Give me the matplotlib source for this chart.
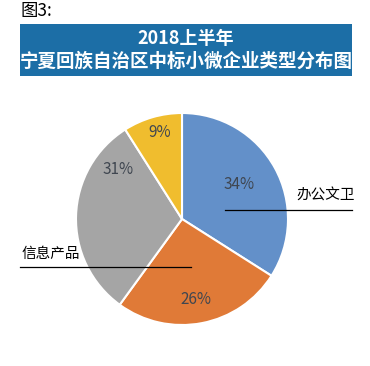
import matplotlib.pyplot as plt
from matplotlib.patches import Rectangle

plt.rcParams['font.family'] = ['Noto Sans CJK SC', 'DejaVu Sans']

# 数据 (橙色和黄色扇区在原图中没有类别名称)
categories = ['办公文卫', '', '信息产品', '']
shares = [34, 26, 31, 9]
pct_labels = ['34%', '26%', '31%', '9%']
colors = ['#6390c9', '#e07a37', '#a5a5a5', '#f0bd2e']

fig = plt.figure(figsize=(3.7, 3.66), dpi=100)
W, H = 370, 366

# 标题部分
fig.text(20 / W, 1 - 11 / H, '图3:', fontsize=12.5, va='center', ha='left')
fig.patches.append(Rectangle((20 / W, 1 - 76 / H), 332 / W, 52 / H,
                             transform=fig.transFigure, facecolor='#1c6ea6',
                             edgecolor='none'))
fig.text(186 / W, 1 - 38 / H, '2018上半年', fontsize=13, fontweight='bold',
         color='white', ha='center', va='center')
fig.text(186 / W, 1 - 61 / H, '宁夏回族自治区中标小微企业类型分布图', fontsize=13.3,
         fontweight='bold', color='white', ha='center', va='center')

# 饼图
r = 106
cx, cy = 182, 219
ax = fig.add_axes([(cx - r) / W, 1 - (cy + r) / H, 2 * r / W, 2 * r / H])
wedges, texts = ax.pie(shares, colors=colors, startangle=90, counterclock=False,
                       wedgeprops=dict(edgecolor='white', linewidth=1.5))
ax.set_aspect('equal')
ax.set_xlim(-1, 1)
ax.set_ylim(-1, 1)
ax.axis('off')

# 百分比标签
pos = [(0.54, 0.33), (0.13, -0.76), (-0.6, 0.47), (-0.21, 0.82)]
for (x, y), t in zip(pos, pct_labels):
    ax.text(x, y, t, fontsize=11, color='#3f4650', ha='center', va='center')

# 引线标签
fig.text(296 / W, 1 - 196 / H, categories[0], fontsize=10.5, ha='left', va='center')
fig.add_artist(plt.Line2D([225 / W, 352 / W], [1 - 210 / H, 1 - 210 / H],
                          color='black', linewidth=0.9))
fig.text(21 / W, 1 - 254 / H, categories[2], fontsize=10.5, ha='left', va='center')
fig.add_artist(plt.Line2D([20 / W, 191 / W], [1 - 267 / H, 1 - 267 / H],
                          color='black', linewidth=0.9))

fig.savefig('out.png', dpi=100, facecolor='white')
